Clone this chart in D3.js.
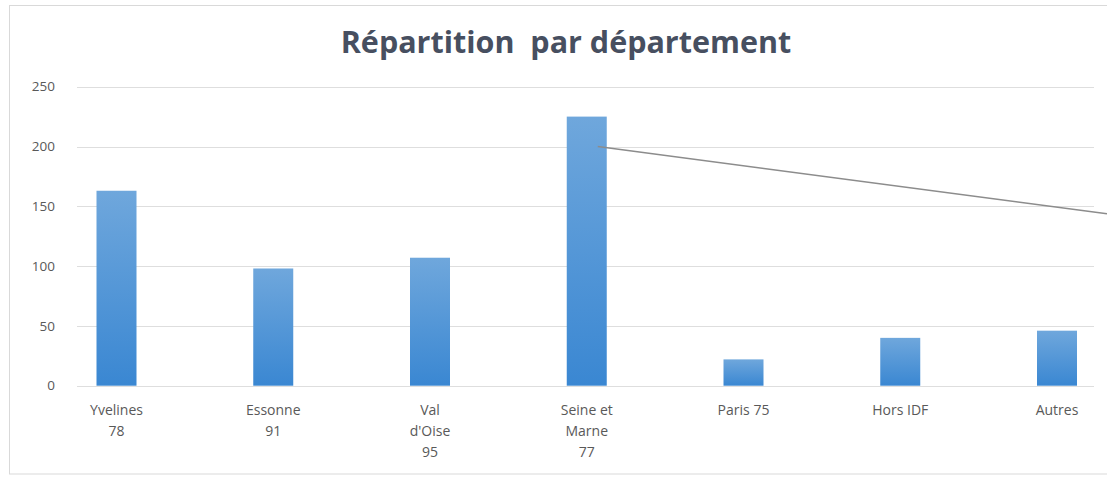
<!DOCTYPE html>
<html><head><meta charset="utf-8">
<script src="https://cdn.jsdelivr.net/npm/d3@7"></script>
<style>body{margin:0;background:#fff;}svg{display:block;}</style>
</head><body>
<svg id="c" width="1107" height="477"></svg>
<script>
const categories = ["Yvelines\n78", "Essonne\n91", "Val\nd'Oise\n95", "Seine et\nMarne\n77", "Paris 75", "Hors IDF", "Autres"];
const values = [163, 98, 107, 225, 22, 40, 46];
const yTicks = [0, 50, 100, 150, 200, 250];
const title = "Répartition  par département";

const svg = d3.select("#c");
// frame
svg.append("rect").attr("x", 9.5).attr("y", 5.5).attr("width", 1110).attr("height", 468.5)
  .attr("fill", "#fff").attr("stroke", "#d9d9d9").attr("stroke-width", 1);

const x = d3.scalePoint().domain(categories).range([116.5, 1057]);
const y = d3.scaleLinear().domain([0, 250]).range([385.7, 86.7]);
const gridX0 = 77, gridX1 = 1094, bw = 40;

const defs = svg.append("defs");
const g = defs.append("linearGradient").attr("id", "bg").attr("x1", 0).attr("y1", 0).attr("x2", 0).attr("y2", 1);
g.append("stop").attr("offset", "0%").attr("stop-color", "#6fa7dc");
g.append("stop").attr("offset", "100%").attr("stop-color", "#3a87d2");

// gridlines
svg.append("g").selectAll("line").data(yTicks).join("line")
  .attr("x1", gridX0).attr("x2", gridX1)
  .attr("y1", d => Math.round(y(d)) + 0.5).attr("y2", d => Math.round(y(d)) + 0.5)
  .attr("stroke", "#dedede").attr("stroke-width", 1);

// y tick labels
svg.append("g").selectAll("text").data(yTicks).join("text")
  .attr("x", 55).attr("y", d => y(d)).attr("dy", "0.35em")
  .attr("text-anchor", "end").attr("font-family", "'Open Sans', sans-serif")
  .attr("font-size", 13.5).attr("fill", "#595959").text(d => d);

// bars
svg.append("g").selectAll("rect").data(values).join("rect")
  .attr("x", (d, i) => x(categories[i]) - bw / 2).attr("width", bw)
  .attr("y", d => y(d)).attr("height", d => y(0) - y(d))
  .attr("fill", "url(#bg)");

// category labels
const lab = svg.append("g").selectAll("text").data(categories).join("text")
  .attr("x", d => x(d)).attr("y", 415)
  .attr("text-anchor", "middle").attr("font-family", "'Open Sans', sans-serif")
  .attr("font-size", 14).attr("fill", "#595959");
lab.each(function(d) {
  const t = d3.select(this);
  d.split("\n").forEach((s, i) => {
    t.append("tspan").attr("x", x(d)).attr("dy", i === 0 ? 0 : 21).text(s);
  });
});

// leader line from the Seine et Marne bar
const lx = x(categories[3]) + 11, ly = y(200);
const slope = 0.132;
svg.append("line").attr("x1", lx).attr("y1", ly).attr("x2", 1107).attr("y2", ly + (1107 - lx) * slope)
  .attr("stroke", "#8c8c8c").attr("stroke-width", 1.5);

// title
svg.append("text").attr("x", 566).attr("y", 53).attr("text-anchor", "middle")
  .attr("font-family", "'Open Sans', sans-serif").attr("font-weight", "bold")
  .attr("font-size", 30.5).attr("fill", "#474f60").attr("xml:space", "preserve").text(title);
</script>
</body></html>
